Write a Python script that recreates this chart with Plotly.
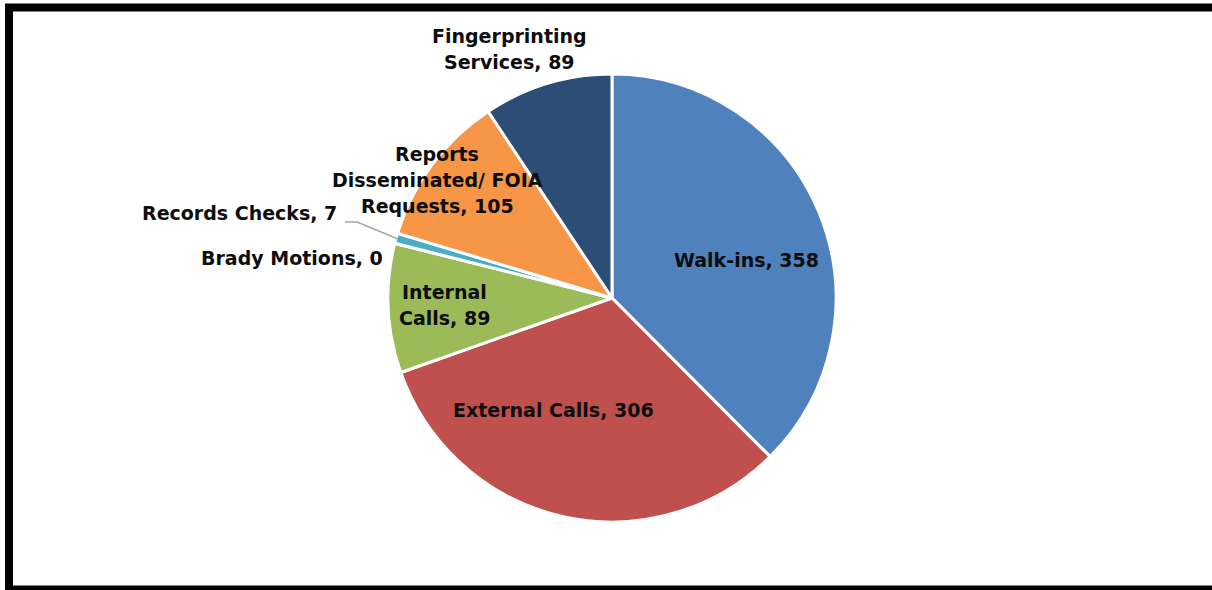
import plotly.graph_objects as go

# Request categories and counts, clockwise from 12 o'clock
categories = [
    "Walk-ins",
    "External Calls",
    "Internal Calls",
    "Brady Motions",
    "Records Checks",
    "Reports Disseminated/ FOIA Requests",
    "Fingerprinting Services",
]
counts = [358, 306, 89, 0, 7, 105, 89]
colors = ["#4F81BD", "#C0504D", "#9BBB59", "#8064A2", "#4BACC6", "#F79646", "#2C4D75"]

# Line breaks used in the data labels
label_lines = [
    ["Walk-ins"],
    ["External Calls"],
    ["Internal", "Calls"],
    ["Brady Motions"],
    ["Records Checks"],
    ["Reports", "Disseminated/ FOIA", "Requests"],
    ["Fingerprinting", "Services"],
]

W, H = 1212, 590
FONT = "DejaVu Sans"
LINE_GAP = 26


def px(x):
    return x / W


def py(y):
    return 1 - y / H


cx, cy, r = 612, 298, 224

fig = go.Figure(
    go.Pie(
        labels=categories,
        values=counts,
        sort=False,
        direction="clockwise",
        rotation=0,
        marker=dict(colors=colors, line=dict(color="white", width=3)),
        textinfo="none",
        hoverinfo="label+value",
        showlegend=False,
        domain=dict(x=[px(cx - r), px(cx + r)], y=[py(cy + r + 1), py(cy - r - 1)]),
    )
)

# Label placement: (x, y of first line, xanchor) in pixels
placements = {
    0: (746, 260, "center"),
    1: (553, 410, "center"),
    2: (444, 292, "center"),
    3: (385, 258, "right"),
    4: (339, 213, "right"),
    5: (437, 154, "center"),
    6: (509, 36, "center"),
}

annotations = []
for i, (x, y, xa) in placements.items():
    lines = list(label_lines[i])
    lines[-1] = f"{lines[-1]}, {counts[i]}"
    for k, line in enumerate(lines):
        annotations.append(
            dict(
                x=px(x), y=py(y + k * LINE_GAP), xref="paper", yref="paper",
                xanchor=xa, yanchor="middle",
                text=f"<b>{line}</b>", showarrow=False,
                font=dict(family=FONT, size=19, color="#0D0D0D"),
            )
        )

shapes = [
    # leader line for the small Records Checks slice
    dict(
        type="path", xref="paper", yref="paper",
        path=f"M {px(345)},{py(222)} L {px(357)},{py(222)} L {px(398)},{py(239)}",
        line=dict(color="#A6A6A6", width=1.5),
    ),
    # chart border
    dict(
        type="rect", xref="paper", yref="paper",
        x0=px(9), x1=px(1230), y0=py(589.5), y1=py(7.5),
        line=dict(color="black", width=8),
    ),
]

fig.update_layout(
    width=W, height=H,
    margin=dict(l=0, r=0, t=0, b=0),
    paper_bgcolor="white",
    plot_bgcolor="white",
    annotations=annotations,
    shapes=shapes,
)

fig.write_html("out.html")
